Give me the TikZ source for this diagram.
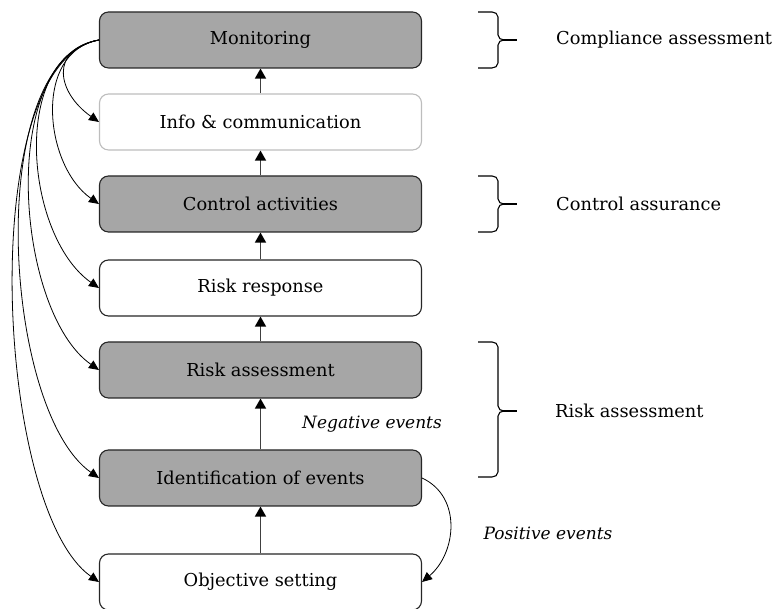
\documentclass[tikz,border=0pt]{standalone}
\usepackage{fontspec}
\setmainfont{DejaVu Serif}
\usetikzlibrary{arrows.meta}

\definecolor{boxgray}{HTML}{A6A6A6}
\definecolor{edgegray}{HTML}{262626}
\definecolor{paleedge}{HTML}{BDBDBD}
\definecolor{stemgray}{HTML}{404040}

\newcommand\stagefont{\fontsize{17.8}{20}\selectfont}
\newcommand\notefont{\fontsize{17}{20}\selectfont\itshape}

\tikzset{
  stage/.style={draw=edgegray, line width=1.1pt, rounded corners=9pt,
    minimum width=322pt, minimum height=56pt, inner sep=0pt, font=\stagefont},
  stageshaded/.style={stage, fill=boxgray},
  stageplain/.style={stage, fill=white},
  stagefaint/.style={stage, draw=paleedge, fill=white},
  upflow/.style={draw=stemgray, line width=1.4pt,
    -{Triangle[length=10pt,width=11pt,color=black]}},
  monflow/.style={line width=0.8pt, -{Triangle[length=10pt,width=9pt]}},
  bracket/.style={line width=1.1pt, black},
  sidelabel/.style={anchor=west, inner sep=0pt, font=\stagefont},
  eventnote/.style={font=\notefont}
}

% curved link from monitoring back to a stage
\newcommand\monlink[2]{
  \draw[monflow] (mon.west) to[out=190, in=145, looseness=#2] (#1.west) ;
}
% right hand bracket: top y, bottom y, tip y
\newcommand\sidebrace[3]{
  \draw[bracket] (478, #1) -- (492, #1) to[out=0, in=90] (498, #1 - 5)
    -- (498, #3 + 5) to[out=-90, in=180] (504, #3) ;
  \draw[bracket] (478, #2) -- (492, #2) to[out=0, in=-90] (498, #2 + 5)
    -- (498, #3 - 5) to[out=90, in=180] (504, #3) ;
  \draw[bracket, line width=1.6pt] (503, #3) -- (517, #3) ;
}

\begin{document}
\begin{tikzpicture}[x=1pt, y=1pt]
  \useasboundingbox (0, 0) rectangle (773, 609) ;

  % stages, bottom to top
  \node[stageplain]  (obj)   at (260.5, 27)  {Objective setting} ;
  \node[stageshaded] (ident) at (260.5, 131) {Identification of events} ;
  \node[stageshaded] (ra)    at (260.5, 239) {Risk assessment} ;
  \node[stageplain]  (resp)  at (260.5, 321) {Risk response} ;
  \node[stageshaded] (ctrl)  at (260.5, 405) {Control activities} ;
  \node[stagefaint]  (info)  at (260.5, 487) {Info \& communication} ;
  \node[stageshaded] (mon)   at (260.5, 569) {Monitoring} ;

  \draw[upflow] (obj) -- (ident) ;
  \draw[upflow] (ident) -- (ra) ;
  \draw[upflow] (ra) -- (resp) ;
  \draw[upflow] (resp) -- (ctrl) ;
  \draw[upflow] (ctrl) -- (info) ;
  \draw[upflow] (info) -- (mon) ;

  \monlink{info}{1.6}
  \monlink{ctrl}{1.05}
  \monlink{resp}{0.94}
  \monlink{ra}{0.8}
  \monlink{ident}{0.69}
  \monlink{obj}{0.6}

  \draw[monflow] (ident.east) to[out=-25, in=40, looseness=1.1] (obj.east) ;

  \node[eventnote] (neg) at (372, 185) {Negative events} ;
  \node[eventnote] (pos) at (548, 76) {Positive events} ;

  \sidebrace{597}{541}{569}
  \sidebrace{433}{377}{405}
  \sidebrace{267}{132}{198}
  \node[sidelabel] (comp)  at (556, 569) {Compliance assessment} ;
  \node[sidelabel] (assur) at (556, 405) {Control assurance} ;
  \node[sidelabel] (rlab)  at (555, 198) {Risk assessment} ;
\end{tikzpicture}
\end{document}
